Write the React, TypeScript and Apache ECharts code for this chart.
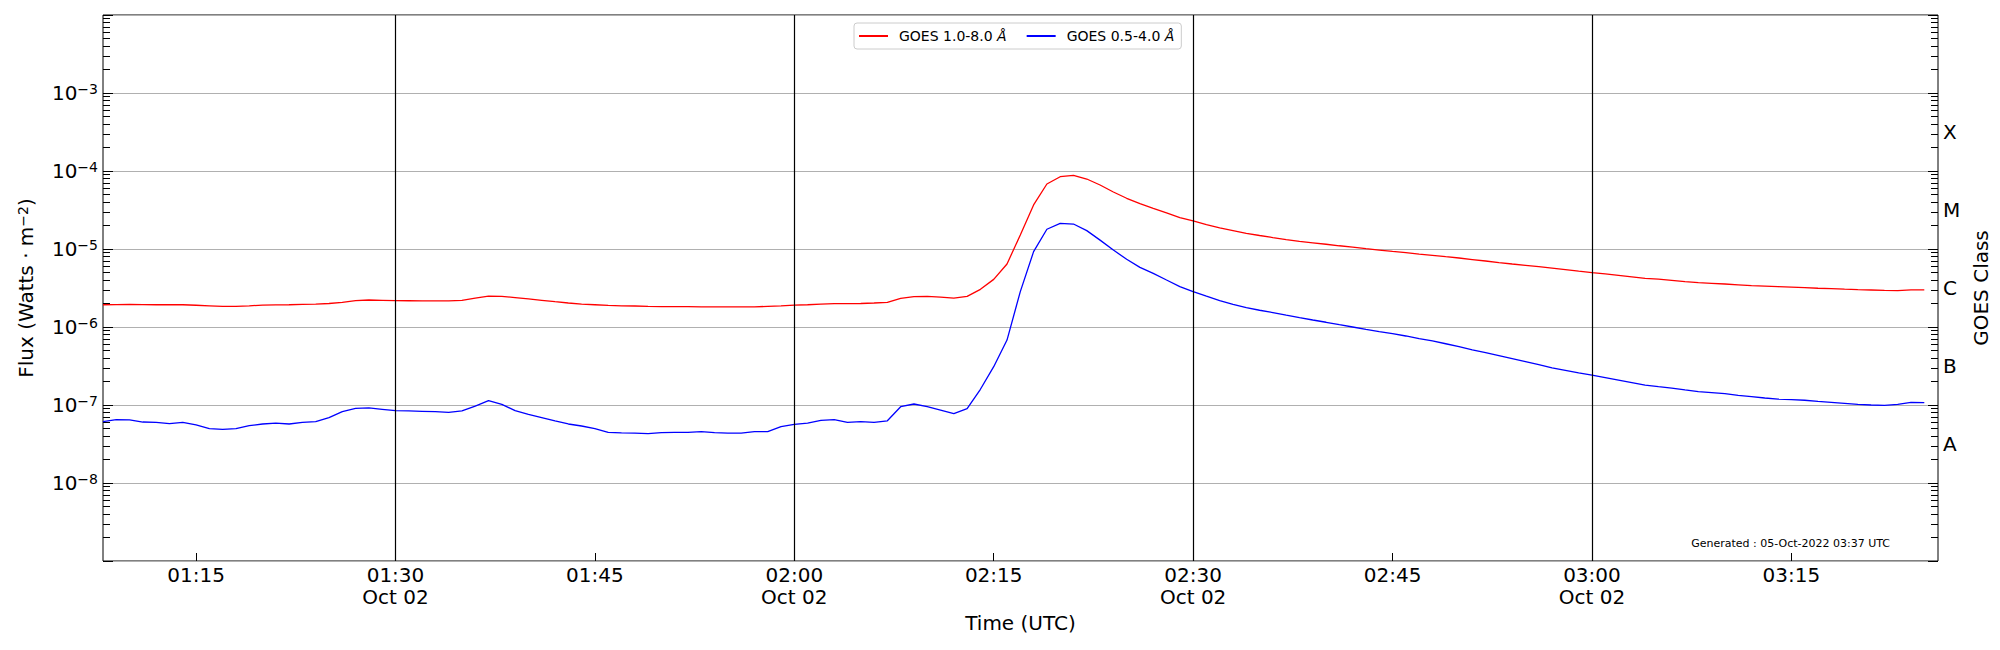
import React, { useEffect, useRef } from "react";
import * as echarts from "echarts";

// GOES XRS flux, 1-minute cadence starting 2022-10-02 01:08 UTC
const startTime = "2022-10-02T01:08:00Z";
const cadenceMinutes = 1;
const axisEndMinutes = 138.03; // x-axis extent after start

const goesLong = [
  1.93e-6, 1.94e-6, 1.95e-6, 1.94e-6, 1.93e-6, 1.93e-6, 1.93e-6, 1.9e-6, 1.87e-6, 1.84e-6,
  1.84e-6, 1.87e-6, 1.91e-6, 1.92e-6, 1.93e-6, 1.95e-6, 1.97e-6, 2.0e-6, 2.07e-6, 2.18e-6,
  2.22e-6, 2.2e-6, 2.18e-6, 2.17e-6, 2.16e-6, 2.16e-6, 2.16e-6, 2.2e-6, 2.35e-6, 2.49e-6,
  2.47e-6, 2.38e-6, 2.29e-6, 2.2e-6, 2.11e-6, 2.03e-6, 1.97e-6, 1.93e-6, 1.89e-6, 1.87e-6,
  1.86e-6, 1.84e-6, 1.83e-6, 1.82e-6, 1.82e-6, 1.81e-6, 1.81e-6, 1.81e-6, 1.81e-6, 1.81e-6,
  1.84e-6, 1.87e-6, 1.91e-6, 1.93e-6, 1.97e-6, 1.99e-6, 1.99e-6, 2.0e-6, 2.03e-6, 2.07e-6,
  2.33e-6, 2.45e-6, 2.47e-6, 2.42e-6, 2.35e-6, 2.47e-6, 3.04e-6, 4.08e-6, 6.43e-6, 1.51e-5,
  3.67e-5, 6.81e-5, 8.45e-5, 8.8e-5, 7.89e-5, 6.62e-5, 5.38e-5, 4.47e-5, 3.81e-5, 3.32e-5,
  2.9e-5, 2.52e-5, 2.29e-5, 2.06e-5, 1.86e-5, 1.72e-5, 1.59e-5, 1.49e-5, 1.4e-5, 1.32e-5,
  1.25e-5, 1.2e-5, 1.15e-5, 1.1e-5, 1.06e-5, 1.01e-5, 9.7e-6, 9.3e-6, 8.97e-6, 8.6e-6,
  8.3e-6, 7.97e-6, 7.67e-6, 7.33e-6, 7.02e-6, 6.7e-6, 6.42e-6, 6.17e-6, 5.93e-6, 5.7e-6,
  5.45e-6, 5.2e-6, 4.98e-6, 4.8e-6, 4.6e-6, 4.4e-6, 4.21e-6, 4.1e-6, 3.97e-6, 3.82e-6,
  3.7e-6, 3.63e-6, 3.56e-6, 3.47e-6, 3.39e-6, 3.34e-6, 3.29e-6, 3.24e-6, 3.19e-6, 3.14e-6,
  3.1e-6, 3.05e-6, 3.01e-6, 2.98e-6, 2.95e-6, 2.93e-6, 3.0e-6, 3.0e-6,
];

const goesShort = [
  6.11e-8, 6.48e-8, 6.43e-8, 6.05e-8, 6.0e-8, 5.77e-8, 6.0e-8, 5.55e-8, 4.98e-8, 4.88e-8,
  4.98e-8, 5.43e-8, 5.71e-8, 5.87e-8, 5.71e-8, 6.0e-8, 6.11e-8, 6.89e-8, 8.22e-8, 9.06e-8,
  9.16e-8, 8.8e-8, 8.45e-8, 8.4e-8, 8.3e-8, 8.2e-8, 8.05e-8, 8.4e-8, 9.7e-8, 1.135e-7,
  1.02e-7, 8.45e-8, 7.6e-8, 6.89e-8, 6.24e-8, 5.71e-8, 5.38e-8, 4.98e-8, 4.47e-8, 4.38e-8,
  4.35e-8, 4.29e-8, 4.42e-8, 4.47e-8, 4.47e-8, 4.55e-8, 4.42e-8, 4.35e-8, 4.35e-8, 4.55e-8,
  4.55e-8, 5.27e-8, 5.65e-8, 5.87e-8, 6.37e-8, 6.48e-8, 6.0e-8, 6.11e-8, 6.0e-8, 6.27e-8,
  9.5e-8, 1.03e-7, 9.5e-8, 8.6e-8, 7.74e-8, 8.97e-8, 1.59e-7, 3.1e-7, 6.8e-7, 2.84e-6,
  9.25e-6, 1.79e-5, 2.13e-5, 2.09e-5, 1.72e-5, 1.3e-5, 9.7e-6, 7.38e-6, 5.82e-6, 4.87e-6,
  4.0e-6, 3.29e-6, 2.84e-6, 2.48e-6, 2.18e-6, 1.95e-6, 1.77e-6, 1.64e-6, 1.53e-6, 1.42e-6,
  1.32e-6, 1.23e-6, 1.15e-6, 1.07e-6, 1.0e-6, 9.3e-7, 8.7e-7, 8.2e-7, 7.67e-7, 7.1e-7,
  6.62e-7, 6.1e-7, 5.6e-7, 5.1e-7, 4.69e-7, 4.3e-7, 3.93e-7, 3.6e-7, 3.29e-7, 3.0e-7,
  2.78e-7, 2.58e-7, 2.42e-7, 2.25e-7, 2.09e-7, 1.94e-7, 1.8e-7, 1.72e-7, 1.65e-7, 1.56e-7,
  1.48e-7, 1.44e-7, 1.4e-7, 1.33e-7, 1.28e-7, 1.23e-7, 1.19e-7, 1.17e-7, 1.15e-7, 1.11e-7,
  1.08e-7, 1.05e-7, 1.02e-7, 1.0e-7, 9.9e-8, 1.02e-7, 1.08e-7, 1.07e-7,
];

const seriesNames = ["GOES 1.0-8.0 Å", "GOES 0.5-4.0 Å"];
const seriesColors = ["#ff0000", "#0000ff"];

const xTickLabels = ["01:15", "01:30", "01:45", "02:00", "02:15", "02:30", "02:45", "03:00", "03:15"];
const dateLabel = "Oct 02";
const axvlineTimes = ["01:30", "02:00", "02:30", "03:00"];

const fluxMin = 1e-9;
const fluxMax = 1e-2;
const decadeExponents = [-9, -8, -7, -6, -5, -4, -3, -2];
const labelledExponents = [-8, -7, -6, -5, -4, -3];
const minorMultipliers = [2, 3, 4, 5, 6, 7, 8, 9];

const classLetters = ["A", "B", "C", "M", "X"];
const classExponents = [-7.5, -6.5, -5.5, -4.5, -3.5];

const generatedText = "Generated : 05-Oct-2022 03:37 UTC";

const FONT = "DejaVu Sans";

function hhmmToTs(hhmm: string): number {
  const base = new Date(startTime);
  const [h, m] = hhmm.split(":").map(Number);
  return Date.UTC(base.getUTCFullYear(), base.getUTCMonth(), base.getUTCDate(), h, m, 0);
}

function pad2(n: number) {
  return n < 10 ? "0" + n : "" + n;
}

export default function App() {
  const ref = useRef<HTMLDivElement>(null);

  useEffect(() => {
    if (!ref.current) return;
    const chart = echarts.init(ref.current, undefined, { renderer: "svg" });

    const t0 = new Date(startTime).getTime();
    const step = cadenceMinutes * 60000;
    const longData = goesLong.map((v, i) => [t0 + i * step, v]);
    const shortData = goesShort.map((v, i) => [t0 + i * step, v]);

    const xTicks = xTickLabels.map(hhmmToTs);
    const decades = decadeExponents.map((e) => Math.pow(10, e));
    const labelled = labelledExponents.map((e) => Math.pow(10, e));
    const minors: number[] = [];
    decadeExponents.slice(0, -1).forEach((e) => {
      minorMultipliers.forEach((k) => minors.push(k * Math.pow(10, e)));
    });
    const classValues = classExponents.map((e) => Math.pow(10, e));

    const tickColor = "#000000";

    const option: any = {
      animation: false,
      backgroundColor: "#ffffff",
      textStyle: { fontFamily: FONT, color: "#000" },
      grid: {
        left: 103,
        right: 62,
        top: 15,
        bottom: 89,
        show: true,
        borderColor: "#000",
        borderWidth: 1,
        backgroundColor: "transparent",
        containLabel: false,
      },
      legend: {
        left: 854,
        top: 23,
        orient: "horizontal",
        padding: [6, 7, 6, 5],
        itemGap: 20,
        itemWidth: 29,
        itemHeight: 2,
        borderColor: "#cccccc",
        borderWidth: 1,
        borderRadius: 3,
        backgroundColor: "rgba(255,255,255,0.8)",
        selectedMode: false,
        data: seriesNames.map((n) => ({ name: n, icon: "rect" })),
        formatter: (name: string) => name.replace("Å", "{i|Å}"),
        textStyle: {
          fontFamily: FONT,
          fontSize: 14,
          color: "#000",
          padding: [0, 0, 0, 6],
          rich: {
            i: { fontFamily: FONT, fontSize: 14, fontStyle: "italic", color: "#000" },
          },
        },
      },
      xAxis: {
        type: "value",
        min: t0,
        max: t0 + axisEndMinutes * 60000,
        position: "bottom",
        axisLine: { show: false },
        splitLine: { show: false },
        axisTick: {
          show: true,
          inside: true,
          length: 8,
          customValues: xTicks,
          lineStyle: { color: tickColor, width: 1 },
        },
        axisLabel: {
          customValues: xTicks,
          fontFamily: FONT,
          fontSize: 20,
          lineHeight: 22,
          color: "#000",
          margin: 3,
          formatter: (val: number) => {
            const d = new Date(val);
            const s = pad2(d.getUTCHours()) + ":" + pad2(d.getUTCMinutes());
            return d.getUTCMinutes() % 30 === 0 ? s + "\n" + dateLabel : s;
          },
        },
        name: "Time (UTC)",
        nameLocation: "middle",
        nameGap: 51,
        nameTextStyle: { fontFamily: FONT, fontSize: 20, color: "#000" },
      },
      yAxis: [
        {
          type: "log",
          logBase: 10,
          min: fluxMin,
          max: fluxMax,
          position: "left",
          axisLine: { show: false },
          axisTick: {
            show: true,
            inside: true,
            length: 10,
            customValues: decades,
            lineStyle: { color: tickColor, width: 1 },
          },
          splitLine: {
            show: true,
            lineStyle: { color: "#b0b0b0", width: 1, type: "solid" },
          },
          axisLabel: {
            customValues: labelled,
            margin: 5,
            formatter: (v: number) => {
              const e = Math.round(Math.log10(v));
              return "{b|10}{s|" + (e < 0 ? "\u2212" + -e : "" + e) + "}";
            },
            rich: {
              b: { fontFamily: FONT, fontSize: 20, lineHeight: 22, color: "#000" },
              s: { fontFamily: FONT, fontSize: 14, lineHeight: 14, verticalAlign: "top", color: "#000" },
            },
          },
          name: "Flux (Watts · m{s|\u22122})",
          nameLocation: "middle",
          nameGap: 67,
          nameRotate: 90,
          nameTextStyle: {
            fontFamily: FONT,
            fontSize: 20,
            color: "#000",
            rich: {
              s: { fontFamily: FONT, fontSize: 14, lineHeight: 14, verticalAlign: "top", color: "#000" },
            },
          },
        },
        {
          type: "log",
          logBase: 10,
          min: fluxMin,
          max: fluxMax,
          position: "left",
          axisLine: { show: false },
          axisLabel: { show: false },
          splitLine: { show: false },
          axisTick: {
            show: true,
            inside: true,
            length: 7,
            customValues: minors,
            lineStyle: { color: tickColor, width: 1 },
          },
        },
        {
          type: "log",
          logBase: 10,
          min: fluxMin,
          max: fluxMax,
          position: "right",
          axisLine: { show: false },
          splitLine: { show: false },
          axisTick: {
            show: true,
            inside: true,
            length: 10,
            customValues: decades,
            lineStyle: { color: tickColor, width: 1 },
          },
          axisLabel: {
            customValues: classValues,
            margin: 5,
            fontFamily: FONT,
            fontSize: 20,
            color: "#000",
            formatter: (v: number) => {
              const e = Math.round(Math.log10(v) * 2) / 2;
              const idx = classExponents.indexOf(e);
              return idx >= 0 ? classLetters[idx] : "";
            },
          },
          name: "GOES Class",
          nameLocation: "middle",
          nameGap: 21,
          nameRotate: 90,
          nameTextStyle: { fontFamily: FONT, fontSize: 20, color: "#000" },
        },
        {
          type: "log",
          logBase: 10,
          min: fluxMin,
          max: fluxMax,
          position: "right",
          axisLine: { show: false },
          axisLabel: { show: false },
          splitLine: { show: false },
          axisTick: {
            show: true,
            inside: true,
            length: 7,
            customValues: minors,
            lineStyle: { color: tickColor, width: 1 },
          },
        },
      ],
      series: [
        {
          name: seriesNames[0],
          type: "line",
          data: longData,
          yAxisIndex: 0,
          symbol: "none",
          showSymbol: false,
          color: seriesColors[0],
          lineStyle: { color: seriesColors[0], width: 1.3 },
          emphasis: { disabled: true },
          z: 3,
          markLine: {
            silent: true,
            symbol: ["none", "none"],
            label: { show: false },
            lineStyle: { color: "#000", width: 1.2, type: "solid" },
            emphasis: { disabled: true },
            data: axvlineTimes.map((t) => ({ xAxis: hhmmToTs(t) })),
          },
        },
        {
          name: seriesNames[1],
          type: "line",
          data: shortData,
          yAxisIndex: 0,
          symbol: "none",
          showSymbol: false,
          color: seriesColors[1],
          lineStyle: { color: seriesColors[1], width: 1.3 },
          emphasis: { disabled: true },
          z: 3,
        },
      ],
      graphic: [
        {
          type: "text",
          right: 110,
          top: 538,
          z: 10,
          style: {
            text: generatedText,
            fontFamily: FONT,
            fontSize: 11,
            fill: "#000",
          },
        },
      ],
    };

    chart.setOption(option);
    return () => {
      chart.dispose();
    };
  }, []);

  return (
    <div
      ref={ref}
      style={{ position: "fixed", left: 0, top: 0, width: 2000, height: 650, background: "#fff" }}
    />
  );
}
